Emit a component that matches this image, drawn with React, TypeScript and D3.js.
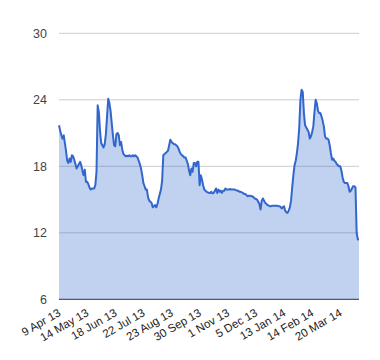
import React from "react";
import * as d3 from "d3";

const values: number[] = [
  21.7, 21.2, 20.8, 20.5, 20.8,
  20.1, 19.4, 18.5, 18.3, 18.7,
  18.4, 19.0, 18.9, 18.6, 18.2,
  17.8, 18.0, 18.2, 18.4, 18.1,
  17.6, 17.2, 17.7, 16.6, 16.6,
  16.4, 16.1, 15.9, 16.0, 16.0,
  16.0, 16.3, 17.5, 23.5, 22.9,
  21.2, 20.1, 19.9, 19.7, 20.0,
  20.9, 22.5, 24.1, 23.7, 23.0,
  21.9, 20.8, 19.9, 19.8, 20.9,
  21.0, 20.8, 19.9, 20.2, 19.5,
  19.1, 19.0, 18.9, 18.95, 18.9,
  19.0, 18.9, 18.9, 19.0, 18.9,
  19.0, 18.9, 18.8, 18.5, 18.2,
  17.8, 17.2, 16.5, 16.2, 15.9,
  15.9, 15.2, 14.9, 14.8, 14.7,
  14.3, 14.4, 14.5, 14.3, 14.6,
  15.1, 15.5, 15.9, 16.7, 19.0,
  19.1, 19.2, 19.3, 19.4, 19.9,
  20.4, 20.2, 20.1, 20.0, 20.0,
  19.9, 19.8, 19.6, 19.3, 19.1,
  19.0, 18.9, 18.8, 18.8, 18.5,
  18.2, 17.6, 17.2, 17.8, 17.5,
  18.3, 18.3, 18.0, 18.4, 18.4,
  16.3, 17.2, 16.8, 16.3, 15.9,
  15.8, 15.7, 15.65, 15.6, 15.6,
  15.7, 15.55, 15.6, 15.8, 16.0,
  15.6, 15.9, 15.7, 15.8, 15.6,
  15.8, 15.8, 16.0, 15.9, 15.9,
  15.9, 15.95, 15.9, 15.9, 15.9,
  15.9, 15.85, 15.8, 15.8, 15.7,
  15.7, 15.65, 15.6, 15.5, 15.5,
  15.4, 15.3, 15.35, 15.35, 15.3,
  15.3, 15.2, 15.1, 15.05, 15.0,
  14.8, 14.6, 14.1, 14.9, 15.1,
  14.9, 14.7, 14.6, 14.5, 14.45,
  14.4, 14.4, 14.45, 14.45, 14.45,
  14.45, 14.45, 14.4, 14.4, 14.35,
  14.2, 14.3, 14.4, 14.0, 13.85,
  13.8, 14.0, 14.3, 14.9, 16.1,
  17.2, 18.1, 18.5, 19.2, 20.1,
  21.5, 24.0, 24.9, 24.7, 22.8,
  21.7, 21.5, 21.3, 21.1, 20.5,
  20.7, 21.1, 21.6, 22.9, 24.0,
  23.7, 23.0, 22.8, 22.8, 22.5,
  22.1, 21.6, 20.7, 20.5, 20.5,
  20.4, 19.9, 19.2, 18.6, 18.7,
  18.5, 18.4, 18.2, 18.1, 18.0,
  18.0, 17.6, 17.0, 16.6, 16.5,
  16.5, 16.5, 16.2, 15.7, 15.8,
  16.0, 16.2, 16.2, 16.1, 12.0,
  11.4, 11.4,
];

const xLabels: string[] = [
  "9 Apr 13", "14 May 13", "18 Jun 13", "22 Jul 13", "23 Aug 13", "30 Sep 13",
  "1 Nov 13", "5 Dec 13", "13 Jan 14", "14 Feb 14", "20 Mar 14",
];
const labelStep = 24;
const yTicks: number[] = [6, 12, 18, 24, 30];

export default function App() {
  const W = 380, H = 360;
  const left = 59, right = 359, top = 33.3, bottom = 299.3;
  const x = d3.scaleLinear().domain([0, values.length - 1]).range([left, right]);
  const y = d3.scaleLinear().domain([6, 30]).range([bottom, top]);
  const line = d3.line<number>().x((_, i) => x(i)).y((d) => y(d));
  const area = d3.area<number>().x((_, i) => x(i)).y0(y(6)).y1((d) => y(d));
  const font = "Arial, 'Liberation Sans', sans-serif";
  return (
    <svg width={W} height={H} style={{ position: "absolute", left: 0, top: 0, background: "#fff" }}>
      {yTicks.map((t) => (
        <g key={t}>
          {t !== 6 && (
            <line x1={left} x2={right} y1={y(t)} y2={y(t)} stroke="#cccccc" strokeWidth={1} />
          )}
          <text x={47} y={y(t)} dy="0.35em" textAnchor="end" fontFamily={font} fontSize={12.5} fill="#444">
            {t}
          </text>
        </g>
      ))}
      <path d={area(values) || ""} fill="#3366cc" fillOpacity={0.3} />
      <path d={line(values) || ""} fill="none" stroke="#3366cc" strokeWidth={2} strokeLinejoin="round" />
      <line x1={left} x2={right} y1={y(6)} y2={y(6)} stroke="#333" strokeWidth={1} />
      {xLabels.map((lab, k) => {
        const px = x(k * labelStep) + 2.5;
        const py = 315;
        return (
          <text key={lab} x={px} y={py} textAnchor="end" fontFamily={font} fontSize={11.5} fill="#222"
            transform={`rotate(-30 ${px} ${py})`}>
            {lab}
          </text>
        );
      })}
    </svg>
  );
}
